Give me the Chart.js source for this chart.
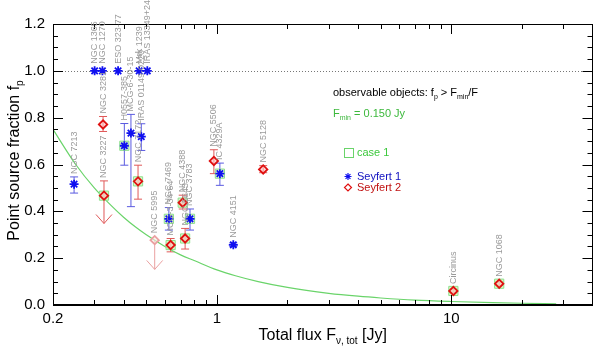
<!DOCTYPE html>
<html><head><meta charset="utf-8">
<script src="https://cdn.jsdelivr.net/npm/chart.js@4/dist/chart.umd.min.js"></script>
<style>html,body{margin:0;padding:0;background:#fff;}#wrap{width:600px;height:350px;position:relative;}</style>
</head><body><div id="wrap"><canvas id="c"></canvas></div>
<script>
// ---- Seyfert 1 ----
const sy1Names   = ['NGC 7213','NGC 1365','NGC 1270','ESO 323-77','Mrk 1239','IRAS 13349+2438','H0557-385','MCG-6-30-15','IRAS 01149-0220','NGC 7469','NGC 3783','IC 4329A','NGC 4151'];
const sy1Flux    = [0.246, 0.301, 0.325, 0.379, 0.466, 0.505, 0.403, 0.430, 0.476, 0.624, 0.768, 1.03, 1.175];
const sy1Frac    = [0.516, 1.0,   1.0,   1.0,   1.0,   1.0,   0.680, 0.734, 0.719, 0.368, 0.368, 0.561, 0.257];
const sy1ErrLow  = [0.478, null,  null,  null,  null,  null,  0.597, 0.420, 0.660, 0.320, 0.320, 0.511, 0.250];
const sy1ErrHigh = [0.547, null,  null,  null,  null,  null,  0.775, 0.814, 0.774, 0.416, 0.410, 0.606, 0.265];
const sy1Case1   = [false, false, false, false, false, false, true,  false, false, true,  true,  true,  false];
// ---- Seyfert 2 ----
const sy2Names   = ['NGC 3281','NGC 3227','NGC 7172','NGC 5995','MCG-3-34-64','NGC 4388','NGC 5643','NGC 5506','NGC 5128','Circinus','NGC 1068'];
const sy2Flux    = [0.327, 0.330, 0.461, 0.543, 0.635, 0.715, 0.732, 0.971, 1.576, 10.2,  16.0];
const sy2Frac    = [0.771, 0.467, 0.528, 0.277, 0.256, 0.437, 0.284, 0.615, 0.579, 0.060, 0.091];
const sy2ErrLow  = [0.741, null,  0.452, null,  0.227, 0.410, 0.239, 0.561, 0.565, 0.052, 0.083];
const sy2ErrHigh = [0.805, 0.530, 0.597, null,  0.284, 0.469, 0.327, 0.663, 0.595, 0.068, 0.099];
const sy2UpperTo = [null,  0.348, null,  0.152, null,  null,  null,  null,  null,  null,  null];
const sy2Observable = [true, true, true, false, true, true, true, true, true, true, true];
const sy2Case1   = [false, true,  true,  false, true,  true,  true,  false, false, true,  true];
// ---- detection limit curve ----
const curveFlux = [0.2, 0.25, 0.3, 0.35, 0.4, 0.45, 0.5, 0.6, 0.7, 0.8, 1.0, 1.2, 1.5, 2.0, 3.0, 4.0, 5.0, 7.0, 10, 15, 20, 28];
const curveFrac = [0.75, 0.60, 0.50, 0.43, 0.375, 0.333, 0.30, 0.25, 0.214, 0.19, 0.15, 0.125, 0.10, 0.075, 0.05, 0.0375, 0.03, 0.021, 0.015, 0.01, 0.0075, 0.0054];
// ---- ticks ----
const xTickLabels = [0.2, 1, 10];
const xMinorTicks = [0.3,0.4,0.5,0.6,0.7,0.8,0.9,2,3,4,5,6,7,8,9,20,30];
const xMajorTicks = [1, 10];
const yTickLabels = [0, 0.2, 0.4, 0.6, 0.8, 1.0, 1.2];
const yMinorTicks = [0.05,0.1,0.15,0.25,0.3,0.35,0.45,0.5,0.55,0.65,0.7,0.75,0.85,0.9,0.95,1.05,1.1,1.15];
const refLine = 1.0;

const BLUE = '#1010f0', BLUE_ERR = '#5a5ae0', RED = '#e01010', RED_ERR = '#e05858', PINK = '#eaa0a0';
const GREEN = '#6ad46a';
const FONT = '"Liberation Sans", Arial, Helvetica, sans-serif';

const pts = (xs, ys) => xs.map((x, i) => ({x, y: ys[i]}));
const caseData = [
  ...sy1Flux.map((x,i)=>sy1Case1[i]?{x,y:sy1Frac[i]}:null).filter(Boolean),
  ...sy2Flux.map((x,i)=>sy2Case1[i]?{x,y:sy2Frac[i]}:null).filter(Boolean)
];

function drawRich(ctx, parts, x, y, size, align) {
  const subSize = Math.round(size * 0.65);
  let w = 0;
  parts.forEach(p => { ctx.font = (p.sub ? subSize : size) + 'px ' + FONT; w += ctx.measureText(p.t).width; });
  let cx = align === 'center' ? x - w / 2 : x;
  ctx.textAlign = 'left'; ctx.textBaseline = 'alphabetic';
  parts.forEach(p => {
    ctx.font = (p.sub ? subSize : size) + 'px ' + FONT;
    ctx.fillText(p.t, cx, y + (p.sub ? size * 0.28 : 0));
    cx += ctx.measureText(p.t).width;
  });
}

const decor = {
  id: 'decor',
  beforeDatasetsDraw(chart) {
    const {ctx, chartArea: a, scales: {x, y}} = chart;
    ctx.save();
    // dotted reference line
    ctx.strokeStyle = '#777'; ctx.lineWidth = 1; ctx.setLineDash([1, 2]);
    const yr = Math.round(y.getPixelForValue(refLine)) + 0.5;
    ctx.beginPath(); ctx.moveTo(a.left, yr); ctx.lineTo(a.right, yr); ctx.stroke();
    ctx.setLineDash([]);
    // error bars
    const bar = (fx, lo, hi, col) => {
      const px = x.getPixelForValue(fx);
      ctx.strokeStyle = col; ctx.lineWidth = 1;
      ctx.beginPath();
      ctx.moveTo(px, y.getPixelForValue(lo)); ctx.lineTo(px, y.getPixelForValue(hi));
      [lo, hi].forEach(v => { const py = y.getPixelForValue(v); ctx.moveTo(px - 4, py); ctx.lineTo(px + 4, py); });
      ctx.stroke();
    };
    sy1Flux.forEach((f, i) => { if (sy1ErrLow[i] !== null) bar(f, sy1ErrLow[i], sy1ErrHigh[i], BLUE_ERR); });
    sy2Flux.forEach((f, i) => {
      const col = sy2Observable[i] ? RED_ERR : PINK;
      if (sy2ErrLow[i] !== null) bar(f, sy2ErrLow[i], sy2ErrHigh[i], col);
      if (sy2UpperTo[i] !== null) {
        const px = x.getPixelForValue(f);
        const top = y.getPixelForValue(sy2ErrHigh[i] !== null ? sy2ErrHigh[i] : sy2Frac[i]);
        const tip = y.getPixelForValue(sy2UpperTo[i]);
        ctx.strokeStyle = col; ctx.lineWidth = 1;
        ctx.beginPath();
        if (sy2ErrHigh[i] !== null) { ctx.moveTo(px - 4, top); ctx.lineTo(px + 4, top); }
        ctx.moveTo(px, top); ctx.lineTo(px, tip);
        ctx.moveTo(px - 8, tip - 9); ctx.lineTo(px, tip); ctx.lineTo(px + 8, tip - 9);
        ctx.stroke();
      }
    });
    ctx.restore();
  },
  afterDatasetsDraw(chart) {
    const {ctx, chartArea: a, scales: {x, y}} = chart;
    ctx.save();
    // frame
    ctx.strokeStyle = '#000'; ctx.lineWidth = 1;
    ctx.strokeRect(Math.round(a.left) + 0.5, Math.round(a.top) + 0.5, Math.round(a.right - a.left) - 1, Math.round(a.bottom - a.top) - 1);
    // inward ticks
    ctx.beginPath();
    const xt = (v, len) => { const px = Math.round(x.getPixelForValue(v)) + 0.5;
      ctx.moveTo(px, a.bottom); ctx.lineTo(px, a.bottom - len); ctx.moveTo(px, a.top); ctx.lineTo(px, a.top + len); };
    xMinorTicks.forEach(v => xt(v, 5)); xMajorTicks.forEach(v => xt(v, 10));
    const yt = (v, len) => { const py = Math.round(y.getPixelForValue(v)) + 0.5;
      ctx.moveTo(a.left, py); ctx.lineTo(a.left + len, py); ctx.moveTo(a.right, py); ctx.lineTo(a.right - len, py); };
    yMinorTicks.forEach(v => yt(v, 5)); yTickLabels.forEach(v => yt(v, 10));
    ctx.stroke();
    // object labels
    ctx.fillStyle = '#9a9a9a'; ctx.font = '9px ' + FONT; ctx.textAlign = 'left'; ctx.textBaseline = 'middle';
    const lab = (name, f, fr, hi) => {
      const px = x.getPixelForValue(f);
      let py = y.getPixelForValue(fr) - 7;
      if (hi !== null) py = Math.min(py, y.getPixelForValue(hi) - 3);
      ctx.save(); ctx.translate(px, py); ctx.rotate(-Math.PI / 2); ctx.fillText(name, 0, 0); ctx.restore();
    };
    sy1Names.forEach((n, i) => lab(n, sy1Flux[i], sy1Frac[i], sy1ErrHigh[i]));
    sy2Names.forEach((n, i) => lab(n, sy2Flux[i], sy2Frac[i], sy2ErrHigh[i]));
    // axis titles
    ctx.fillStyle = '#000';
    drawRich(ctx, [{t:'Total flux F'}, {t:'ν, tot', sub:true}, {t:' [Jy]'}], (a.left + a.right) / 2, 340, 16, 'center');
    ctx.save(); ctx.translate(19, (a.top + a.bottom) / 2 - 4); ctx.rotate(-Math.PI / 2);
    drawRich(ctx, [{t:'Point source fraction f'}, {t:'p', sub:true}], 0, 0, 16, 'center');
    ctx.restore();
    // annotation / legend
    ctx.fillStyle = '#000';
    drawRich(ctx, [{t:'observable objects: f'}, {t:'p', sub:true}, {t:' > F'}, {t:'min', sub:true}, {t:'/F'}], 333, 96, 11, 'left');
    ctx.fillStyle = '#3cb83c';
    drawRich(ctx, [{t:'F'}, {t:'min', sub:true}, {t:' = 0.150 Jy'}], 333, 117, 11, 'left');
    ctx.strokeStyle = GREEN; ctx.lineWidth = 1;
    ctx.strokeRect(344.5, 148.5, 9, 9);
    ctx.fillStyle = '#3cc83c'; ctx.font = '11px ' + FONT; ctx.textBaseline = 'middle';
    ctx.fillText('case 1', 357, 153);
    // asterisk
    ctx.strokeStyle = BLUE; ctx.lineWidth = 1.2; ctx.beginPath();
    const ax = 348, ay = 176.5, r = 3.5;
    ctx.moveTo(ax - r, ay); ctx.lineTo(ax + r, ay); ctx.moveTo(ax, ay - r); ctx.lineTo(ax, ay + r);
    ctx.moveTo(ax - r*0.7, ay - r*0.7); ctx.lineTo(ax + r*0.7, ay + r*0.7); ctx.moveTo(ax - r*0.7, ay + r*0.7); ctx.lineTo(ax + r*0.7, ay - r*0.7);
    ctx.stroke();
    ctx.fillStyle = '#1010c0'; ctx.fillText('Seyfert 1', 357, 176.5);
    ctx.strokeStyle = RED; ctx.beginPath();
    const dx = 348, dy = 187.5;
    ctx.moveTo(dx, dy - 3.5); ctx.lineTo(dx + 3.5, dy); ctx.lineTo(dx, dy + 3.5); ctx.lineTo(dx - 3.5, dy); ctx.closePath(); ctx.stroke();
    ctx.fillStyle = '#c01010'; ctx.fillText('Seyfert 2', 357, 187.5);
    ctx.restore();
  }
};

new Chart(document.getElementById('c'), {
  type: 'scatter',
  data: {
    datasets: [
      { label: 'limit', data: pts(curveFlux, curveFrac), showLine: true, borderColor: GREEN, borderWidth: 1.2,
        pointRadius: 0, tension: 0.3, cubicInterpolationMode: 'monotone', fill: false, order: 5 },
      { label: 'case 1', data: caseData, pointStyle: 'rect', pointRadius: 6.5, borderColor: '#8ee08e',
        backgroundColor: 'rgba(205,245,180,0.7)', borderWidth: 1, order: 4 },
      { label: 'Seyfert 2', data: pts(sy2Flux, sy2Frac), pointStyle: 'rectRot', pointRadius: 4.2, borderWidth: 1.8,
        borderColor: ctx => sy2Observable[ctx.dataIndex] ? RED : PINK,
        backgroundColor: ctx => sy2Observable[ctx.dataIndex] ? 'rgba(255,190,190,0.6)' : 'rgba(255,235,235,0.6)', order: 2 },
      { label: 'Seyfert 1', data: pts(sy1Flux, sy1Frac), pointStyle: 'star', pointRadius: 4.5, borderWidth: 1.8,
        borderColor: BLUE, backgroundColor: BLUE, order: 1 }
    ]
  },
  options: {
    responsive: true, maintainAspectRatio: false, animation: false, devicePixelRatio: 1,
    layout: { padding: { top: 24, right: 2, left: 0, bottom: 0 } },
    plugins: { legend: { display: false }, tooltip: { enabled: false } },
    scales: {
      x: {
        type: 'logarithmic', min: 0.2, max: 40, position: 'bottom',
        grid: { display: false, drawTicks: false }, border: { display: true, color: '#000' },
        afterBuildTicks: s => { s.ticks = xTickLabels.map(v => ({ value: v })); },
        afterFit: s => { s.height = 45; },
        ticks: { autoSkip: false, maxRotation: 0, padding: 5, color: '#000', font: { size: 15, family: FONT },
          callback: v => String(v) }
      },
      y: {
        min: 0, max: 1.2,
        grid: { display: false, drawTicks: false }, border: { display: true, color: '#000' },
        afterBuildTicks: s => { s.ticks = yTickLabels.map(v => ({ value: v })); },
        afterFit: s => { s.width = 53; },
        ticks: { padding: 8, color: '#000', font: { size: 15, family: FONT }, callback: v => Number(v).toFixed(1) }
      }
    }
  },
  plugins: [decor]
});
</script>
</body></html>
